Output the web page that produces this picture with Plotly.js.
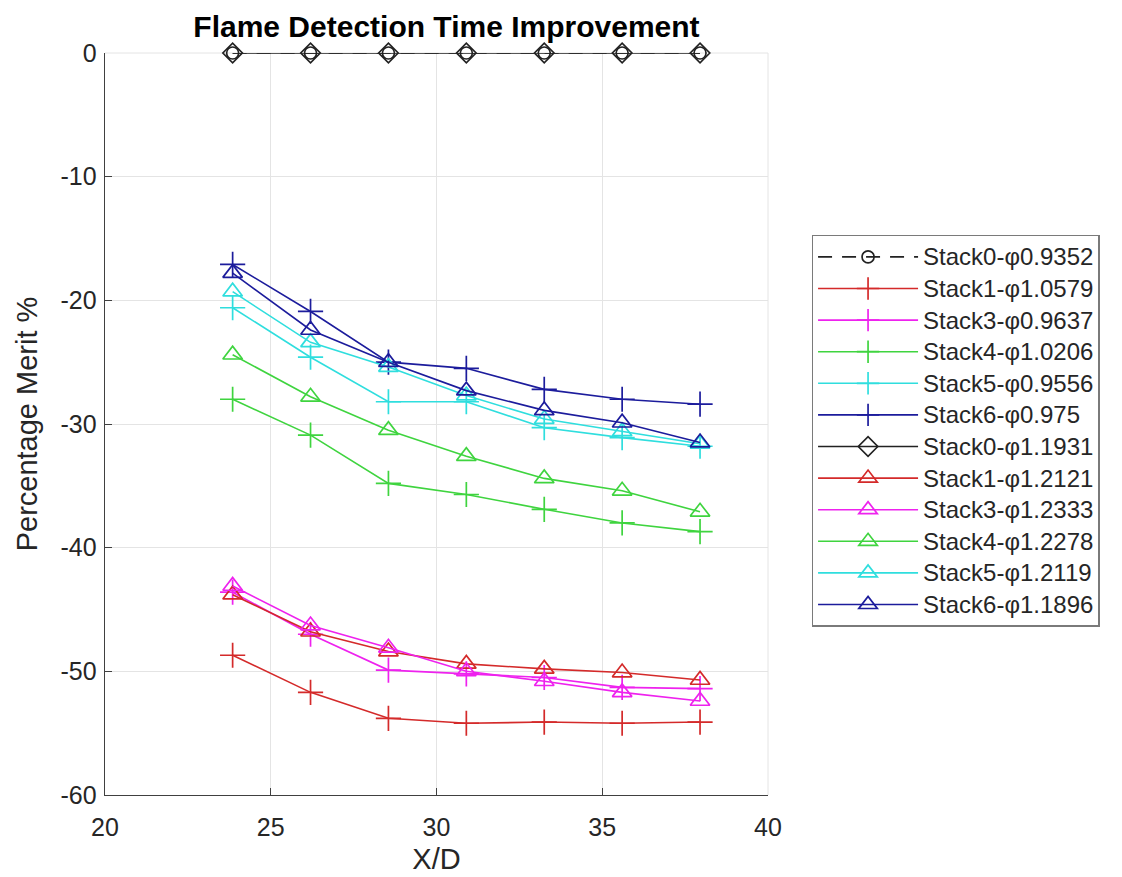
<!DOCTYPE html>
<html>
<head>
<meta charset="utf-8">
<script src="https://cdn.plot.ly/plotly-3.0.1.min.js"></script>
<style>html,body{margin:0;padding:0;background:#fff;}#chart{width:1122px;height:877px;}</style>
</head>
<body>
<div id="chart"></div>
<script>
const xd = [23.85, 26.2, 28.55, 30.9, 33.25, 35.6, 37.95];

const stack0_09352 = [0, 0, 0, 0, 0, 0, 0];
const stack1_10579 = [-48.7, -51.7, -53.8, -54.2, -54.1, -54.2, -54.1];
const stack3_09637 = [-43.6, -47.0, -49.9, -50.2, -50.5, -51.3, -51.4];
const stack4_10206 = [-28.0, -30.9, -34.8, -35.7, -36.9, -38.0, -38.7];
const stack5_09556 = [-20.6, -24.6, -28.2, -28.2, -30.3, -31.1, -31.8];
const stack6_0975  = [-17.1, -20.9, -25.0, -25.5, -27.2, -28.0, -28.4];
const stack0_11931 = [0, 0, 0, 0, 0, 0, 0];
const stack1_12121 = [-43.8, -46.8, -48.4, -49.4, -49.8, -50.1, -50.7];
const stack3_12333 = [-43.1, -46.3, -48.1, -50.0, -50.8, -51.7, -52.4];
const stack4_12278 = [-24.4, -27.8, -30.5, -32.6, -34.4, -35.4, -37.1];
const stack5_12119 = [-19.3, -23.4, -25.4, -27.7, -29.6, -30.6, -31.6];
const stack6_11896 = [-17.8, -22.4, -25.0, -27.3, -28.9, -29.9, -31.5];

const names = [
  'Stack0-φ0.9352','Stack1-φ1.0579','Stack3-φ0.9637','Stack4-φ1.0206','Stack5-φ0.9556','Stack6-φ0.975',
  'Stack0-φ1.1931','Stack1-φ1.2121','Stack3-φ1.2333','Stack4-φ1.2278','Stack5-φ1.2119','Stack6-φ1.1896'
];
const series = [stack0_09352, stack1_10579, stack3_09637, stack4_10206, stack5_09556, stack6_0975,
                stack0_11931, stack1_12121, stack3_12333, stack4_12278, stack5_12119, stack6_11896];

const xTicks = [20, 25, 30, 35, 40];
const yTicks = [-60, -50, -40, -30, -20, -10, 0];

const colors = ['#222222','#d42a2a','#ee22ee','#3fd43f','#2fdede','#1c1c9c',
                '#222222','#d42a2a','#ee22ee','#3fd43f','#2fdede','#1c1c9c'];
const symbols = ['circle-open','cross-thin-open','cross-thin-open','cross-thin-open','cross-thin-open','cross-thin-open',
                 'diamond-open','triangle-up-open','triangle-up-open','triangle-up-open','triangle-up-open','triangle-up-open'];
const sizes = [12,18,18,18,18,18,15,17,17,17,17,17];
const dashes = ['14px,10px','solid','solid','solid','solid','solid','solid','solid','solid','solid','solid','solid'];

const traces = series.map((y, i) => ({
  x: xd, y: y, name: '<span style="font-size:24px">' + names[i] + '</span>',
  type: 'scatter', mode: 'lines+markers', cliponaxis: false,
  line: {color: colors[i], width: 1.6, dash: dashes[i]},
  marker: {symbol: symbols[i], size: sizes[i], color: colors[i], line: {color: colors[i], width: 1.7}}
}));

const font = 'Liberation Sans, Arial, Helvetica, sans-serif';
const layout = {
  width: 1122, height: 877,
  margin: {l: 105, r: 354, t: 53, b: 82},
  paper_bgcolor: '#ffffff', plot_bgcolor: '#ffffff',
  font: {family: font, color: '#262626', size: 22},
  title: {text: '<b>Flame Detection Time Improvement</b>', x: 0.515, xref: 'paper', xanchor: 'center',
          y: 18, yref: 'container', yanchor: 'middle', font: {size: 30, color: '#000', family: font}},
  xaxis: {
    range: [20, 40], tickvals: xTicks, ticktext: xTicks.map(String),
    showgrid: true, gridcolor: '#e4e4e4', gridwidth: 1, zeroline: false,
    showline: true, linecolor: '#404040', linewidth: 1.3, mirror: false,
    ticks: 'inside', ticklen: 7, tickcolor: '#404040', tickfont: {size: 25, color: '#262626'},
    ticklabelstandoff: 10,
    title: {text: 'X/D', font: {size: 29, color: '#262626'}, standoff: 8}
  },
  yaxis: {
    range: [-60, 0], tickvals: yTicks, ticktext: yTicks.map(String),
    showgrid: true, gridcolor: '#e4e4e4', gridwidth: 1, zeroline: false,
    showline: true, linecolor: '#404040', linewidth: 1.3, mirror: false,
    ticks: 'inside', ticklen: 7, tickcolor: '#404040', tickfont: {size: 25, color: '#262626'},
    ticklabelstandoff: 2,
    title: {text: 'Percentage Merit %', font: {size: 29, color: '#262626'}, standoff: 14}
  },
  shapes: [
    {type: 'line', xref: 'paper', yref: 'paper', x0: 0, x1: 1, y0: 1, y1: 1, line: {color: '#e4e4e4', width: 1}, layer: 'below'},
    {type: 'line', xref: 'paper', yref: 'paper', x0: 1, x1: 1, y0: 0, y1: 1, line: {color: '#e4e4e4', width: 1}, layer: 'below'}
  ],
  legend: {
    x: 1.066, xanchor: 'left', y: 0.755, yanchor: 'top', yref: 'paper',
    bordercolor: '#7a7a7a', borderwidth: 1.3, bgcolor: '#ffffff',
    font: {size: 22, color: '#262626', family: font},
    traceorder: 'normal', itemwidth: 100
  },
  showlegend: true
};

Plotly.newPlot('chart', traces, layout, {displayModeBar: false, staticPlot: true});
</script>
</body>
</html>
